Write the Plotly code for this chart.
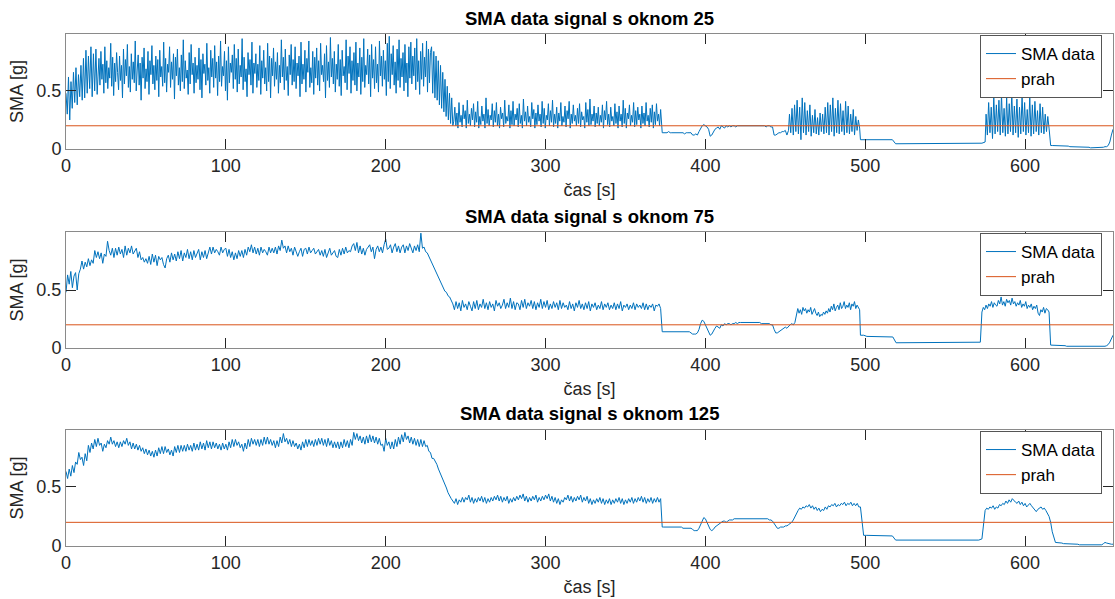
import numpy as np
import plotly.graph_objects as go

# ---------------- data (values in hundredths of g) ----------------
T_END = 655
PRAH = 0.2
TICKS_X = [0, 100, 200, 300, 400, 500, 600]
TICKS_Y = [0, 0.5]
TICK_Y_TEXT = ["0", "0.5"]
TITLES = ["SMA data signal s oknom 25", "SMA data signal s oknom 75", "SMA data signal s oknom 125"]
Y_MAX = [0.99, 1.0, 0.98]

# ---- window 25 ----
w25_spans = [(0, 19.5), (20, 228), (228.7, 242), (242.6, 372), (373, 452), (452.6, 496.5),
             (497, 575), (575.6, 615), (616, 655)]
w25_a0 = [48,30,62,25,58,35,66,40,70,38,64,45,72,
          42,78,44,85,48,80,52,88,45,82,50,86,47]
w25_a = [62,78,55,84,60,73,48,88,57,76,52,70,61,91,54,79,46,74,58,83,
         66,51,80,59,72,44,86,56,77,63,90,53,71,49,82,60,75,57,93,50,
         68,81,55,74,42,79,61,87,52,69,58,84,47,76,64,89,56,72,51,80,
         59,77,45,85,62,71,54,92,57,78,49,73,66,88,53,75,60,82,43,79,
         63,86,55,70,50,81,58,94,52,76,61,68,47,83,56,90,64,74,48,79,
         57,72,60,87,51,77,44,82,65,73,55,91,59,70,48,85,62,78,53,89,
         61,75,46,80,58,93,54,71,63,84,50,76,42,88,57,74,66,81,52,90,
         60,78,49,86,56,72,62,95,51,79,58,69,45,83,64,77,55,92,48,74,
         65,82,53,73,59,89,47,76,61,85,56,70,50,91,58,80,44,78,63,87,
         54,75,60,83,48,72,57,94,62,79,51,86,59,71,46,81,64,90,55,77,
         58,88,52,74,63,80,45,92,56,73,60,85,49,78,66,93,53,70,57,84,
         47,79,61,87,55,76,50,91,64,72,58,82,44,89,59,75,53,96,62,78,
         56,84,49,73,60,90,54,77,46,85,63,71,57,94,51,80,65,88,48,76,
         59,83,55,92,50,74,62,87,47,79,58,95,53,72,64,86,56,81,45,90,
         61,77,52,88,57,73,49,93,63,80,54,85,60,76,46,91,58,97,52,82,
         64,89,55,75,48,86,59,94,53,78,62,83,50,90,57,74,45,88,61,92,
         56,80,63,87,51,95,58,76,47,84,60,91,54,79,62,93,49,86,57,83]
w25_b = [88,48,84,44,80,42,76,38,72,35,66,32,60,28,54,25,48,22,44,20]
w25_c = [24,36,20,31,18,40,23,29,19,38,26,33,18,42,22,30,20,35,25,39,
         19,32,23,41,18,28,21,37,24,30,18,44,22,34,20,29,25,39,19,33,
         23,40,20,30,18,36,26,31,19,42,22,28,24,38,18,33,21,41,20,30,
         25,35,19,39,22,29,18,43,24,32,20,37,23,28,19,40,26,34,18,31,
         21,38,24,30,19,41,22,35,18,29,25,39,20,33,23,42,19,30,22,36,
         18,31,24,40,20,28,23,37,19,33,26,41,18,30,22,38,24,29,20,35,
         22,39,19,32,25,28,18,40,23,34,20,43,21,30,24,37,19,31,22,36,
         20,29,23,38,18,33,25,41,21,30,19,36,24,28,20,39,22,32,18,37,
         24,30,19,42,22,35,18,31,26,38,20,29,23,40,19,33,21,36,25,30,
         18,37,22,31,20,40,24,29,19,35,23,38,18,32,21,39,24,30,20,34]
w25_d = [14,14,14,14,15,14,14,14,14,14,14,14,14,14,13,14,14,14,14,
         12,12,13,12,15,
         18,20,21,20,19,17,
         11,12,15,17,
         18,19,17,20,19,18,20,19,20,19,20,20,19,20,
         20,20,20,20,20,20,20,20,20,20,20,20,20,20,20,20,20,19,20,20,19,19,
         12,12,13,14,14,15,15,16,12,16]
w25_e = [30,14,35,12,38,15,42,13,36,8,44,14,40,12,33,15,38,11,29,14,
         34,13,27,12,31,15,30,13,36,14,40,12,38,15,44,11,35,14,42,13,
         39,15,33,12,41,14,37,13,30,15,34,12,28,16,25,18]
w25_f = [8,8,8,8,8,8,8,8,8,8,8,
         4.5,4.5,4.5,4.5,4.5,4.5,4.5,4.5,4.5,4.5,4.5,4.5,4.5,4.5,
         4.5,4.5,4.5,4.5,5,5,5,5,5,5,5,5,5,
         5,6]
w25_g = [30,12,40,14,36,9,45,13,38,15,42,12,47,14,35,11,44,13,39,15,
         48,12,37,14,43,10,36,13,46,15,40,12,34,14,45,11,38,13,41,15,
         33,12,39,14,36,13,30,15,28,18]
w25_h = [3,3,3,3,3,3,2.5,2.5,2.5,2.5,2.5,2.5,2,2,2,2,2,2,2,2,
         1.5,1.5,1.5,1.5,1.5,1,1,1,1,1,1,1,1,1.5,2,2,3,6,12,17]

# ---- window 75 ----
w75_spans = [(0, 230), (231, 372), (373, 456), (457, 496.5), (497, 572),
             (573, 615), (616, 655)]
w75_a = [48,63,55,66,52,62,65,50,64,68,
         75,68,74,70,77,71,76,73,84,78,
         83,77,82,73,81,79,92,84,80,86,
         78,86,80,87,81,85,78,88,80,86,
         82,88,81,84,86,78,83,76,78,74,
         77,73,79,72,81,74,80,71,79,76,
         78,72,69,77,80,74,82,76,81,75,
         83,77,84,75,82,78,85,77,83,76,
         84,78,82,85,76,83,78,84,77,82,
         87,81,87,82,85,83,80,87,82,85,
         86,79,85,78,83,76,82,77,84,79,
         84,78,85,80,87,83,89,82,87,81,
         86,80,87,82,85,83,80,87,82,86,
         82,87,81,88,84,93,86,88,82,88,
         83,86,80,87,82,79,83,86,79,85,
         86,81,87,82,84,86,81,83,85,80,
         84,79,85,78,83,86,80,82,84,79,
         78,85,80,86,81,87,82,84,83,88,
         90,84,91,82,88,81,86,80,85,87,
         89,83,87,77,85,88,83,87,82,89,
         94,85,86,89,82,87,90,83,88,82,
         87,89,82,88,84,90,85,82,88,84,
         89,83,99,86,87,83,82,79,76,72,
         70]
w75_b = [67,64,61,58,55,52,49,48,45,44,41,38,
         33,40,34,39,32,41,35,38,33,40,
         36,32,40,34,41,33,38,35,42,34,
         39,33,40,35,38,32,41,36,39,34,
         37,42,34,39,35,43,34,40,33,39,
         38,33,41,35,42,34,39,36,41,34,
         40,33,39,35,42,34,40,35,41,33,
         38,34,40,35,39,33,41,34,39,35,
         37,33,40,34,38,32,39,35,41,34,
         38,33,39,34,40,32,38,35,39,33,
         37,34,40,33,38,35,39,33,37,34,
         39,33,38,34,40,32,37,35,38,33,
         37,34,39,33,38,35,37,34,39,33,
         38,33,37,35,38,32,37,36,38,34]
w75_d = [14,14,14,14,14,14,14,14,14,14,14,14,14,14,14,14,14,14,13,
         12,12,12,13,16,
         21,24,23,20,17,13,
         11,12,15,17,
         19,18,17,20,19,21,20,21,21,20,21,21,22,21,
         22,22,22,22,22,22,22,22,22,22,22,22,22,22,21,21,21,21,21,21,20,20,
         16,13,13,14,15,16,17,18,17,19,20,21,20,22]
w75_e = [31,34,30,33,29,35,32,34,30,33,31,35,29,32,34,30,28,31,27,29,
         28,31,29,32,30,34,31,36,33,38,32,35,37,33,39,34,36,40,34,37,
         35,39,33,38,36,40,34,37,35,33]
w75_f = [11,11,10,10,10,10,10,10,10,10,9.5,
         4.5,4.5,4.5,4.5,4.5,4.5,4.5,4.5,4.5,4.5,4.5,4.5,4.5,4.5,
         4.5,4.5,4.5,4.5,4.5,5,5,5,5,5,5,5,5]
w75_g = [31,35,33,37,34,38,36,40,35,39,37,36,41,38,44,37,40,36,42,39,
         41,37,43,38,40,36,39,37,41,35,38,36,40,34,37,35,38,33,36,34,
         37,30,28,33,31,35,30,34,33,31]
w75_h = [2.5,2.5,2,2,2,2,2,2,2,2,1.5,1.5,1.5,1.5,1.5,1.5,1.5,1.5,1,1,
         1,1,1,1,1,1,1,1,1,1,1,1,1,1,1.5,2,3,5,8,11]

# ---- window 125 ----
w125_spans = [(0, 230), (231, 372), (373, 457), (458, 497), (499, 573),
              (575, 617), (619, 655)]
w125_a = [63,57,65,59,68,62,71,69,79,73,
          75,68,78,72,85,79,87,82,90,84,
          91,85,87,80,86,83,89,86,92,86,
          89,84,88,83,88,84,89,86,91,85,
          88,82,87,82,86,81,85,80,83,78,
          82,77,81,76,80,75,81,76,83,78,
          84,78,84,79,82,77,81,76,84,79,
          85,79,85,80,85,80,86,81,85,80,
          87,81,86,81,88,82,87,81,89,83,
          88,82,88,83,87,82,86,81,87,82,
          86,81,88,83,90,84,90,85,88,83,
          86,80,87,82,90,84,91,86,90,85,
          90,84,90,85,92,86,92,86,90,85,
          89,83,89,84,92,87,95,88,91,86,
          90,84,89,84,87,82,86,81,88,83,
          90,84,90,85,89,84,90,85,91,86,
          91,85,90,84,91,85,89,83,88,83,
          88,82,88,83,90,84,89,83,90,85,
          96,90,95,89,93,87,92,86,93,87,
          94,88,93,87,92,86,91,85,86,80,
          91,85,88,82,88,82,90,84,92,86,
          94,88,96,90,93,87,92,86,91,85,
          90,84,90,84,89,84,85,80,79,74,
          74]
w125_b = [72,69,65,62,59,56,52,49,45,42,40,38,
          36,40,35,39,37,41,37,41,39,43,
          37,41,36,40,37,41,38,42,37,41,
          36,40,37,41,38,42,39,43,38,42,
          37,41,38,42,36,40,37,41,38,42,
          39,43,40,44,38,42,37,41,38,42,
          39,43,37,41,38,42,39,43,40,44,
          38,42,37,41,36,40,35,39,37,41,
          39,43,38,42,37,41,38,42,39,43,
          37,41,38,42,36,40,35,39,36,40,
          37,41,36,40,35,39,36,40,35,39,
          36,40,37,41,36,40,35,39,36,40,
          37,41,36,40,37,41,38,42,37,41,
          36,40,37,41,36,40,37,41,37,40]
w125_d = [16,16,16,16,16,16,16,16,16,16,16,16,16,15,15,15,15,15,15,
          14,13,13,13,15,18,
          22,24,23,20,17,14,
          13,14,16,17,
          18,19,20,21,21,20,21,22,22,22,23,23,23,
          23,23,23,23,23,23,23,23,23,23,23,23,23,23,23,23,23,23,23,22,22,21,
          19,17,15,15,16,16,16,17,17,18,19,20,22,25,28]
w125_e = [30,32,31,33,32,34,33,35,32,34,31,33,30,32,29,31,30,33,31,34,
          33,35,34,36,33,35,34,36,35,37,34,36,35,37,34,36,34,36,33,33]
w125_f = [9,9,9,9,9,8.5,8.5,8.5,8.5,8.5,
          5,5,4.5,4.5,4.5,4.5,4.5,4.5,4.5,4.5,4.5,4.5,4.5,4.5,4.5,4.5,
          4.5,4.5,4.5,4.5,5,5,5,5,5,5,5,6]
w125_g = [30,32,31,33,32,34,31,33,32,35,34,36,35,38,36,39,37,40,38,37,
          36,38,35,37,34,36,33,35,36,34,32,30,29,31,32,33,31,32,30,27,
          25,20,12]
w125_h = [3,3,2.5,2.5,2.5,2,2,2,2,2,1.5,1.5,1.5,1.5,1.5,1,1,1,1,1,
          1,1,1,0.5,0.5,0.5,0.5,0.5,0.5,1,2,3,2.5,2,1.5,1.5,1.5]


def build(spans, segs):
    ts, vs = [], []
    for (a, b), seg in zip(spans, segs):
        ts.append(np.linspace(a, b, len(seg)))
        vs.append(np.asarray(seg, dtype=float) / 100.0)
    return np.concatenate(ts), np.concatenate(vs)


series = [
    build(w25_spans, [w25_a0, w25_a, w25_b, w25_c, w25_d, w25_e, w25_f, w25_g, w25_h]),
    build(w75_spans, [w75_a, w75_b, w75_d, w75_e, w75_f, w75_g, w75_h]),
    build(w125_spans, [w125_a, w125_b, w125_d, w125_e, w125_f, w125_g, w125_h]),
]

# ---------------- figure ----------------
BLUE = "#0072BD"
ORANGE = "#D95319"
AX = "#262626"
FONT = "Liberation Sans, Arial, sans-serif"
FS = 18

W, H = 1115, 599
top_px, bot_px = 34, 546
span = bot_px - top_px
panels_px = [(34, 149), (232, 348), (430, 546)]
domains = [[(bot_px - b) / span, (bot_px - a) / span] for a, b in panels_px]
title_px = [18, 216, 413]
legend_bottom_px = [98, 296, 494]

fig = go.Figure()
for i, (t, v) in enumerate(series):
    n = "" if i == 0 else str(i + 1)
    leg = "legend" + n
    fig.add_trace(go.Scatter(x=t, y=v, mode="lines", name="SMA data",
                             line=dict(color=BLUE, width=1),
                             xaxis="x" + n, yaxis="y" + n, legend=leg))
    fig.add_trace(go.Scatter(x=[0, T_END], y=[PRAH, PRAH], mode="lines", name="prah",
                             line=dict(color=ORANGE, width=1),
                             xaxis="x" + n, yaxis="y" + n, legend=leg))

layout = dict(
    width=W, height=H,
    margin=dict(l=66, r=2, t=top_px, b=H - bot_px, pad=0),
    paper_bgcolor="white", plot_bgcolor="white",
    font=dict(family=FONT, size=FS, color=AX),
    annotations=[],
)
for i in range(3):
    n = "" if i == 0 else str(i + 1)
    layout["xaxis" + n] = dict(
        domain=[0, 1], range=[0, T_END], anchor="y" + n,
        tickvals=TICKS_X, ticks="inside", ticklen=10, tickwidth=1, tickcolor=AX,
        showline=True, linecolor="#8a8a8a", linewidth=1, mirror="ticks",
        showgrid=False, zeroline=False,
        tickfont=dict(size=FS, color=AX, family=FONT),
        title=dict(text="čas [s]", font=dict(size=FS, color=AX, family=FONT), standoff=8),
        automargin=False,
    )
    layout["yaxis" + n] = dict(
        domain=domains[i], range=[0, Y_MAX[i]], anchor="x" + n,
        tickvals=TICKS_Y, ticktext=TICK_Y_TEXT, ticks="inside", ticklen=10, tickwidth=1,
        tickcolor=AX, showline=True, linecolor="#8a8a8a", linewidth=1, mirror="ticks",
        showgrid=False, zeroline=False,
        tickfont=dict(size=FS, color=AX, family=FONT),
        title=dict(text="SMA [g]", font=dict(size=FS, color=AX, family=FONT), standoff=8),
        automargin=False,
    )
    layout["legend" + n] = dict(
        x=(1102 - 66) / (W - 66 - 2), xanchor="right",
        y=(bot_px - legend_bottom_px[i]) / span, yanchor="bottom",
        bgcolor="white", bordercolor="#555555", borderwidth=1,
        font=dict(size=17, color="black", family=FONT),
        tracegroupgap=0, itemwidth=30,
    )
    layout["annotations"].append(dict(
        text="<b>" + TITLES[i] + "</b>", x=0.5, xref="paper", xanchor="center",
        y=(bot_px - title_px[i]) / span, yref="paper", yanchor="middle",
        showarrow=False, font=dict(size=18.5, color="black", family=FONT)))

fig.update_layout(**layout)
fig.write_html("out.html")
